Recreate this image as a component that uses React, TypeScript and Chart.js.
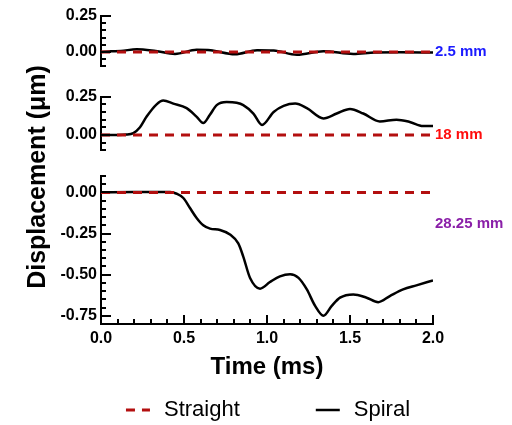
import React, { useEffect, useRef } from "react";
import { Chart, registerables } from "chart.js";

Chart.register(...registerables);

// ---- data ----
const X_TICKS = [0, 0.5, 1, 1.5, 2];

const TOP_T = [0, 0.06, 0.12, 0.215, 0.33, 0.446, 0.576, 0.66, 0.807, 0.94, 1.04, 1.18, 1.34, 1.52, 1.65, 1.8, 2.0];
const TOP_V = [0, 0.004, 0.006, 0.019, 0.006, -0.014, 0.014, 0.011, -0.016, 0.012, 0.01, -0.02, 0.005, -0.015, -0.004, -0.003, -0.004];

const MID_T = [0, 0.1, 0.155, 0.195, 0.235, 0.275, 0.335, 0.375, 0.436, 0.516, 0.575, 0.616, 0.655, 0.697, 0.757, 0.817, 0.857, 0.918, 0.97, 1.04, 1.1, 1.17, 1.24, 1.34, 1.42, 1.5, 1.58, 1.68, 1.78, 1.86, 1.94, 2.0];
const MID_V = [0, 0, 0.002, 0.012, 0.05, 0.12, 0.2, 0.225, 0.205, 0.175, 0.12, 0.078, 0.13, 0.195, 0.215, 0.21, 0.195, 0.14, 0.065, 0.15, 0.19, 0.205, 0.175, 0.108, 0.14, 0.17, 0.14, 0.088, 0.1, 0.085, 0.058, 0.058];

const BOT_T = [0, 0.2, 0.416, 0.456, 0.496, 0.536, 0.576, 0.616, 0.657, 0.717, 0.777, 0.827, 0.857, 0.898, 0.958, 1.018, 1.078, 1.139, 1.19, 1.24, 1.29, 1.34, 1.39, 1.44, 1.52, 1.6, 1.67, 1.74, 1.82, 1.9, 2.0];
const BOT_V = [0, 0.002, 0.002, -0.008, -0.034, -0.095, -0.155, -0.2, -0.22, -0.228, -0.256, -0.31, -0.39, -0.52, -0.585, -0.545, -0.51, -0.497, -0.52, -0.59, -0.69, -0.75, -0.69, -0.64, -0.62, -0.64, -0.667, -0.63, -0.59, -0.565, -0.535];

const STRAIGHT_T = [0, 2];
const STRAIGHT_V = [0, 0];

const TOP_TICKS = [0, 0.25];
const MID_TICKS = [0, 0.25];
const BOT_TICKS = [-0.75, -0.5, -0.25, 0];

const TOP_RANGE = [-0.1, 0.25];
const MID_RANGE = [-0.1, 0.25];
const BOT_RANGE = [-0.8, 0.1];

const SERIES_NAMES = ["Straight", "Spiral"];
const PANEL_LABELS = ["2.5 mm", "18 mm", "28.25 mm"];
const PANEL_LABEL_COLORS = ["#1a1aff", "#ff0d0d", "#8a1fa8"];
const PANEL_LABEL_VALUES = [0, 0, -0.19];
const PANEL_AXES = ["yTop", "yMid", "yBot"];

const X_TITLE = "Time (ms)";
const Y_TITLE = "Displacement (\u03bcm)";

const FONT = "'Liberation Sans', Arial, sans-serif";
const RED = "#b30f0f";

const pts = (t: number[], v: number[]) => t.map((x, i) => ({ x, y: v[i] }));

const tickMarks = {
  id: "tickMarks",
  afterDraw(chart: any) {
    const ctx = chart.ctx;
    ctx.save();
    ctx.strokeStyle = "#000";
    ctx.lineWidth = 2;
    for (const id of PANEL_AXES) {
      const s = chart.scales[id];
      const x0 = s.right;
      const n0 = Math.ceil(s.min / 0.05 - 1e-6);
      const n1 = Math.floor(s.max / 0.05 + 1e-6);
      for (let n = n0; n <= n1; n++) {
        const y = Math.round(s.getPixelForValue(n * 0.05));
        const major = n % 5 === 0;
        ctx.beginPath();
        ctx.moveTo(x0, y);
        ctx.lineTo(x0 + (major ? 10 : 5), y);
        ctx.stroke();
      }
    }
    const xs = chart.scales.x;
    const y0 = xs.top;
    for (let n = 0; n <= 20; n++) {
      const x = Math.round(xs.getPixelForValue(n * 0.1));
      const major = n % 5 === 0;
      ctx.beginPath();
      ctx.moveTo(x, y0);
      ctx.lineTo(x, y0 - (major ? 9 : 5));
      ctx.stroke();
    }
    ctx.restore();
  },
};

const annotations = {
  id: "annotations",
  afterDraw(chart: any) {
    const ctx = chart.ctx;
    const area = chart.chartArea;
    ctx.save();
    // panel labels
    ctx.font = `bold 15px ${FONT}`;
    ctx.textAlign = "left";
    ctx.textBaseline = "middle";
    PANEL_LABELS.forEach((txt, i) => {
      const s = chart.scales[PANEL_AXES[i]];
      ctx.fillStyle = PANEL_LABEL_COLORS[i];
      ctx.fillText(txt, area.right + 2, s.getPixelForValue(PANEL_LABEL_VALUES[i]));
    });
    // y title
    const yTop = chart.scales.yTop.top;
    const yBot = chart.scales.yBot.bottom;
    ctx.save();
    ctx.translate(38, (yTop + yBot) / 2 + 7);
    ctx.rotate(-Math.PI / 2);
    ctx.font = `bold 25px ${FONT}`;
    ctx.fillStyle = "#000";
    ctx.textAlign = "center";
    ctx.textBaseline = "middle";
    ctx.fillText(Y_TITLE, 0, 0);
    ctx.restore();
    // legend
    ctx.font = `22px ${FONT}`;
    ctx.textBaseline = "middle";
    ctx.textAlign = "left";
    const lineLen = 24;
    const textGap = 14;
    const itemGap = 76;
    const widths = SERIES_NAMES.map((n) => lineLen + textGap + ctx.measureText(n).width);
    const total = widths.reduce((a, b) => a + b, 0) + itemGap * (widths.length - 1);
    let x = (area.left + area.right) / 2 + 1 - total / 2;
    const ly = 410;
    SERIES_NAMES.forEach((name, i) => {
      const ds = chart.data.datasets[i];
      ctx.save();
      ctx.strokeStyle = ds.borderColor;
      ctx.lineWidth = ds.borderWidth;
      ctx.setLineDash(ds.borderDash || []);
      ctx.beginPath();
      ctx.moveTo(x, ly);
      ctx.lineTo(x + lineLen, ly);
      ctx.stroke();
      ctx.restore();
      ctx.fillStyle = "#000";
      ctx.fillText(name, x + lineLen + textGap, ly);
      x += widths[i] + itemGap;
    });
    ctx.restore();
  },
};

function yAxis(range: number[], ticks: number[], stackWeight: number, weight: number) {
  return {
    type: "linear",
    position: "left",
    stack: "panels",
    stackWeight,
    weight,
    min: range[0],
    max: range[1],
    afterBuildTicks: (s: any) => {
      s.ticks = ticks.map((v) => ({ value: v }));
    },
    afterFit: (s: any) => {
      s.width = 60;
    },
    ticks: {
      color: "#000",
      padding: 4,
      font: { family: FONT, size: 16, weight: "bold" },
      callback: (v: any) => Number(v).toFixed(2),
    },
    grid: { display: false, drawTicks: false },
    border: { display: true, color: "#000", width: 2 },
  };
}

function gapAxis(stackWeight: number, weight: number) {
  return {
    type: "linear",
    position: "left",
    stack: "panels",
    stackWeight,
    weight,
    afterFit: (s: any) => {
      s.width = 60;
    },
    ticks: { display: false },
    grid: { display: false, drawTicks: false },
    border: { display: false },
  };
}

export default function App() {
  const ref = useRef<HTMLCanvasElement>(null);

  useEffect(() => {
    if (!ref.current) return;
    const spiral = (t: number[], v: number[], yAxisID: string, label: string) => ({
      label,
      data: pts(t, v),
      yAxisID,
      borderColor: "#000",
      backgroundColor: "#000",
      borderWidth: 2.5,
      pointRadius: 0,
      cubicInterpolationMode: "monotone",
      fill: false,
    });
    const straight = (yAxisID: string, label: string) => ({
      label,
      data: pts(STRAIGHT_T, STRAIGHT_V),
      yAxisID,
      borderColor: RED,
      backgroundColor: RED,
      borderWidth: 3,
      borderDash: [9, 7],
      pointRadius: 0,
      fill: false,
    });
    const chart = new Chart(ref.current, {
      type: "line",
      data: {
        datasets: [
          straight("yTop", SERIES_NAMES[0]),
          spiral(TOP_T, TOP_V, "yTop", SERIES_NAMES[1]),
          straight("yMid", SERIES_NAMES[0]),
          spiral(MID_T, MID_V, "yMid", SERIES_NAMES[1]),
          straight("yBot", SERIES_NAMES[0]),
          spiral(BOT_T, BOT_V, "yBot", SERIES_NAMES[1]),
        ] as any,
      },
      options: {
        responsive: false,
        animation: false,
        layout: { padding: { left: 41, right: 79, top: 16, bottom: 43 } },
        plugins: { legend: { display: false }, tooltip: { enabled: false } },
        scales: {
          x: {
            type: "linear",
            min: 0,
            max: 2,
            afterBuildTicks: (s: any) => {
              s.ticks = X_TICKS.map((v) => ({ value: v }));
            },
            ticks: {
              color: "#000",
              padding: 5,
              maxRotation: 0,
              font: { family: FONT, size: 16, weight: "bold" },
              callback: (v: any) => Number(v).toFixed(1),
            },
            grid: { display: false, drawTicks: false },
            border: { display: true, color: "#000", width: 2 },
            title: {
              display: true,
              text: X_TITLE,
              color: "#000",
              padding: { top: 0, bottom: 0 },
              font: { family: FONT, size: 24, weight: "bold" },
            },
          },
          yTop: yAxis(TOP_RANGE, TOP_TICKS, 50.4, 5),
          gap1: gapAxis(30.6, 4),
          yMid: yAxis(MID_RANGE, MID_TICKS, 53.6, 3),
          gap2: gapAxis(25.9, 2),
          yBot: yAxis(BOT_RANGE, BOT_TICKS, 148.5, 1),
        } as any,
      },
      plugins: [tickMarks, annotations],
    });
    return () => chart.destroy();
  }, []);

  return (
    <div style={{ position: "absolute", left: 0, top: 0, width: 512, height: 425, background: "#fff" }}>
      <canvas ref={ref} width={512} height={425} style={{ display: "block" }} />
    </div>
  );
}
